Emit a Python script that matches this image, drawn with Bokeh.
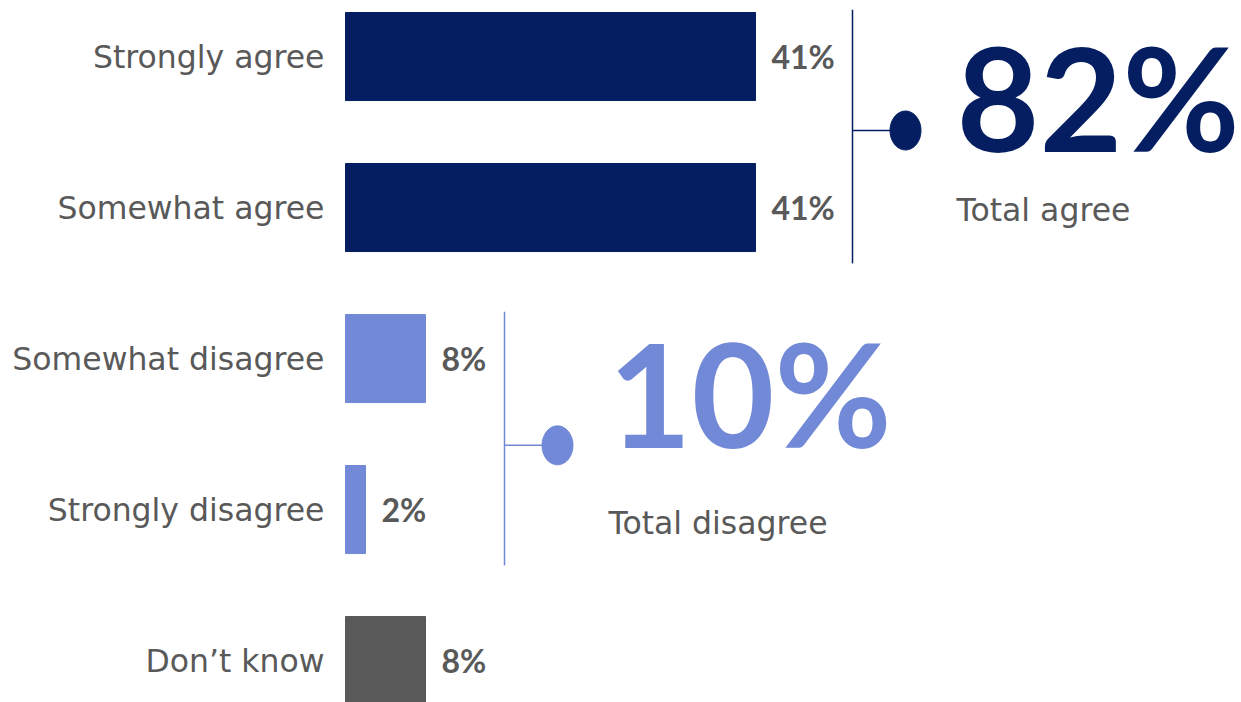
from bokeh.plotting import figure
from bokeh.models import Range1d, ColumnDataSource
from bokeh.core.properties import value
from bokeh.embed import file_html
from bokeh.resources import INLINE

# ---------------- data ----------------
categories = ["Strongly agree", "Somewhat agree", "Somewhat disagree",
              "Strongly disagree", "Don\u2019t know"]
values = [41, 41, 8, 2, 8]
value_labels = ["41%", "41%", "8%", "2%", "8%"]
bar_colors = ["#041E61", "#041E61", "#7189D6", "#7189D6", "#595959"]

group_names = ["Total agree", "Total disagree"]
group_totals = [82, 10]
group_rows = [[0, 1], [2, 3]]
group_colors = ["#041E61", "#7189D6"]

# ---------------- style / layout ----------------
TEXT_GRAY = "#595959"
FONT = "Lato"
FONT_REG = "DejaVu Sans"
bracket_gap = [9.7, 7.9]          # % units after largest bar of group
tick_dy = [0.49, 0.575]           # row units below first row of group
big_dy = [0.262, 0.228]
cap_dy = [1.015, 1.09]

rows = list(range(len(categories)))

p = figure(width=1241, height=702, output_backend="svg", toolbar_location=None,
           x_range=Range1d(-34.5, 89.6), y_range=Range1d(4.278, -0.371),
           min_border=0, outline_line_color=None)
p.axis.visible = False
p.grid.visible = False
p.background_fill_color = "white"
p.border_fill_color = "white"

src = ColumnDataSource(dict(y=rows, v=values, c=bar_colors, cat=categories,
                            lab=value_labels, lx=[v + 1.6 for v in values],
                            cx=[-2.1] * len(rows)))

p.hbar(y="y", left=0, right="v", height=0.583, color="c", source=src)

p.text(x="cx", y="y", text="cat", source=src, text_font=value(FONT_REG),
       text_font_size="31.5px", text_color=TEXT_GRAY, text_align="right",
       text_baseline="middle")
p.text(x="lx", y="y", text="lab", source=src, text_font=value(FONT),
       text_font_size="32px", text_font_style="bold", text_color=TEXT_GRAY,
       text_align="left", text_baseline="middle")

for gi, (name, total, rws, col) in enumerate(zip(group_names, group_totals,
                                                  group_rows, group_colors)):
    bx = max(values[r] for r in rws) + bracket_gap[gi]
    y0 = rws[0] - 0.31
    y1 = rws[-1] + 0.37
    ty = rws[0] + tick_dy[gi]
    p.segment(x0=[bx], y0=[y0], x1=[bx], y1=[y1], line_color=col, line_width=1.5)
    p.segment(x0=[bx], y0=[ty], x1=[bx + 5.3], y1=[ty], line_color=col, line_width=1.5)
    p.ellipse(x=[bx + 5.3], y=[ty], width=31, height=39, width_units="screen",
              height_units="screen", fill_color=col, line_color=col)
    p.text(x=[bx + 10.4], y=[rws[0] + big_dy[gi]], text=[f"{total}%"],
           text_font=value(FONT), text_font_size="143px", text_font_style="bold",
           text_color=col, text_align="left", text_baseline="middle")
    p.text(x=[bx + 10.4], y=[rws[0] + cap_dy[gi]], text=[name],
           text_font=value(FONT_REG), text_font_size="31.5px", text_color=TEXT_GRAY,
           text_align="left", text_baseline="middle")

open("out.html", "w").write(file_html(p, INLINE))
